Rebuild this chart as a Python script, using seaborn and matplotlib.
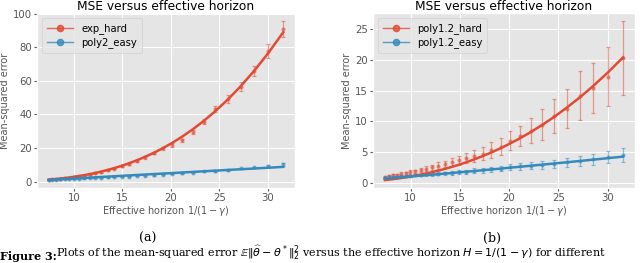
import matplotlib
matplotlib.use('Agg')
import matplotlib.pyplot as plt
import numpy as np
import pandas as pd
import seaborn as sns
from matplotlib.lines import Line2D

# effective horizon values 1/(1-gamma), shared by both panels
horizon = [7.40, 7.78, 8.18, 8.60, 9.04, 9.50, 9.99, 10.50, 11.04, 11.61,
           12.20, 12.83, 13.49, 14.18, 14.91, 15.67, 16.48, 17.32, 18.21, 19.15,
           20.13, 21.16, 22.25, 23.39, 24.59, 25.85, 27.18, 28.57, 30.04, 31.58]

# panel (a)
exp_hard_mse = [1.2, 1.4, 1.6, 1.8, 2.0, 2.3, 2.7, 3.1, 3.6, 4.2,
                4.9, 5.7, 6.7, 7.7, 9.1, 10.6, 12.4, 14.4, 17.0, 19.9,
                21.8, 24.5, 29.5, 35.7, 43.2, 49.1, 56.6, 65.9, 77.7, 90.9]
exp_hard_err = [0.1, 0.1, 0.1, 0.1, 0.15, 0.15, 0.2, 0.2, 0.25, 0.3,
                0.3, 0.35, 0.4, 0.45, 0.5, 0.55, 0.6, 0.7, 0.75, 0.85,
                1.0, 1.1, 1.3, 1.5, 1.9, 2.3, 2.8, 3.2, 4.0, 4.8]
exp_hard_fit = [1.15, 1.33, 1.55, 1.80, 2.09, 2.42, 2.82, 3.27, 3.80, 4.42,
                5.13, 5.97, 6.94, 8.06, 9.37, 10.87, 12.65, 14.68, 17.07, 19.85,
                23.05, 26.77, 31.13, 36.16, 42.02, 48.82, 56.74, 65.90, 76.61, 89.0]
poly2_easy_mse = [1.0, 1.1, 1.2, 1.3, 1.4, 1.5, 1.6, 1.8, 1.9, 2.0,
                  2.2, 2.3, 2.5, 2.7, 2.9, 3.0, 3.3, 3.6, 3.8, 4.2,
                  4.6, 4.9, 5.3, 6.0, 6.2, 6.8, 7.8, 8.4, 9.0, 10.2]
poly2_easy_err = [0.1, 0.1, 0.1, 0.1, 0.1, 0.1, 0.12, 0.12, 0.14, 0.15,
                  0.15, 0.16, 0.18, 0.2, 0.2, 0.22, 0.24, 0.26, 0.28, 0.3,
                  0.32, 0.34, 0.36, 0.4, 0.42, 0.45, 0.5, 0.55, 0.6, 0.8]
poly2_easy_fit = [1.00, 1.12, 1.25, 1.38, 1.52, 1.67, 1.83, 1.99, 2.16, 2.35,
                  2.54, 2.74, 2.95, 3.17, 3.40, 3.65, 3.91, 4.17, 4.46, 4.76,
                  5.07, 5.40, 5.75, 6.12, 6.50, 6.90, 7.33, 7.77, 8.24, 8.74]

# panel (b)
poly12_hard_mse = [1.05, 1.15, 1.25, 1.35, 1.5, 1.6, 1.75, 1.9, 2.1, 2.3,
                   2.55, 2.85, 3.1, 3.4, 3.7, 4.1, 4.4, 4.8, 5.4, 5.9,
                   6.9, 7.7, 8.5, 9.5, 10.85, 12.1, 14.2, 15.4, 17.25, 20.3]
poly12_hard_err = [0.15, 0.15, 0.2, 0.2, 0.25, 0.25, 0.3, 0.3, 0.35, 0.4,
                   0.45, 0.5, 0.55, 0.6, 0.7, 0.8, 0.9, 1.0, 1.25, 1.35,
                   1.55, 1.6, 2.05, 2.5, 2.75, 3.1, 3.95, 4.1, 4.75, 6.0]
poly12_hard_fit = [0.50, 0.57, 0.64, 0.73, 0.83, 0.94, 1.07, 1.22, 1.38, 1.57,
                   1.79, 2.03, 2.31, 2.63, 2.98, 3.39, 3.86, 4.38, 4.98, 5.66,
                   6.44, 7.32, 8.32, 9.46, 10.75, 12.23, 13.89, 15.79, 17.95, 20.4]
poly12_easy_mse = [0.9, 0.95, 1.0, 1.05, 1.1, 1.15, 1.2, 1.25, 1.3, 1.4,
                   1.45, 1.5, 1.6, 1.65, 1.75, 1.85, 2.0, 2.1, 2.25, 2.35,
                   2.55, 2.7, 2.85, 2.95, 3.1, 3.4, 3.6, 3.9, 4.2, 4.6]
poly12_easy_err = [0.1, 0.1, 0.1, 0.12, 0.12, 0.14, 0.15, 0.16, 0.18, 0.2,
                   0.22, 0.25, 0.27, 0.3, 0.32, 0.35, 0.38, 0.4, 0.43, 0.45,
                   0.5, 0.55, 0.6, 0.62, 0.68, 0.75, 0.8, 0.9, 1.0, 1.15]
poly12_easy_fit = [0.75, 0.80, 0.85, 0.90, 0.96, 1.02, 1.08, 1.15, 1.22, 1.29,
                   1.37, 1.46, 1.55, 1.64, 1.75, 1.85, 1.97, 2.09, 2.22, 2.36,
                   2.51, 2.66, 2.83, 3.00, 3.19, 3.38, 3.59, 3.81, 4.05, 4.30]

RED = '#E24A33'
BLUE = '#348ABD'

plt.style.use('ggplot')
plt.rcParams['font.family'] = ['DejaVu Sans']

fig = plt.figure(figsize=(6.4, 2.63), dpi=100)
ax_a = fig.add_axes([37 / 640, 1 - 188 / 263, 258 / 640, 175 / 263])
ax_b = fig.add_axes([373 / 640, 1 - 188 / 263, 262 / 640, 175 / 263])


def draw_panel(ax, series, yticks):
    for name, mse, err, fit, color in series:
        ax.errorbar(horizon, mse, yerr=err, fmt='o', color=color, ms=2,
                    elinewidth=0.9, capsize=1.6, capthick=0.9, alpha=0.5)
        df = pd.DataFrame({'x': horizon, 'y': fit})
        sns.lineplot(data=df, x='x', y='y', ax=ax, color=color, lw=1.8, zorder=3)
    handles = [Line2D([], [], color=c, marker='o', ms=4.5, lw=1, alpha=0.8)
               for _, _, _, _, c in series]
    ax.legend(handles, [s[0] for s in series], loc='upper left', fontsize=7.2,
              handlelength=2.6, borderpad=0.5, labelspacing=0.35)
    ax.set_title('MSE versus effective horizon', fontsize=8.8, pad=2)
    ax.set_xlabel(r'Effective horizon $1/(1-\gamma)$', fontsize=7, labelpad=1)
    ax.set_ylabel('Mean-squared error', fontsize=7, labelpad=2)
    ax.set_xticks([10, 15, 20, 25, 30])
    ax.set_yticks(yticks)
    ax.tick_params(labelsize=7.3, length=2, pad=1.5)


draw_panel(ax_a, [('exp_hard', exp_hard_mse, exp_hard_err, exp_hard_fit, RED),
                  ('poly2_easy', poly2_easy_mse, poly2_easy_err, poly2_easy_fit, BLUE)],
           [0, 20, 40, 60, 80, 100])
draw_panel(ax_b, [('poly1.2_hard', poly12_hard_mse, poly12_hard_err, poly12_hard_fit, RED),
                  ('poly1.2_easy', poly12_easy_mse, poly12_easy_err, poly12_easy_fit, BLUE)],
           [0, 5, 10, 15, 20, 25])

fig.text(148 / 640, 1 - 238 / 263, '(a)', ha='center', va='center',
         fontsize=9, family='DejaVu Serif')
fig.text(492 / 640, 1 - 238 / 263, '(b)', ha='center', va='center',
         fontsize=9, family='DejaVu Serif')
fig.text(0.0, 0.004, 'Figure 3:', ha='left', va='bottom', fontsize=8,
         family='DejaVu Serif', weight='bold')
fig.text(56 / 640, 0.004,
         r'Plots of the mean-squared error $\mathbb{E}\|\widehat{\theta}-\theta^*\|_2^2$'
         r' versus the effective horizon $H=1/(1-\gamma)$ for different',
         ha='left', va='bottom', fontsize=8, family='DejaVu Serif')

fig.savefig('out.png', dpi=100)
